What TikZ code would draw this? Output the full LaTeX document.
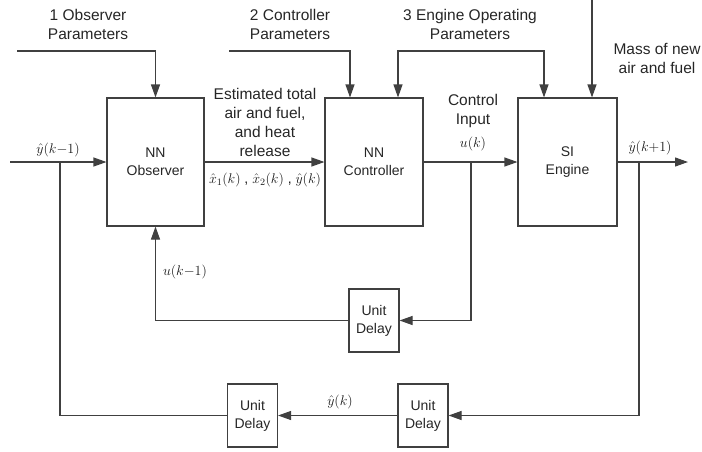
\RequirePackage{fix-cm}
\documentclass[tikz,border=0pt]{standalone}
\usepackage{fontspec}
\setmainfont{Liberation Sans}
\usetikzlibrary{arrows.meta}
\begin{document}
\begin{tikzpicture}[x=1pt, y=-1pt, line width=1.1pt, color=black!75,
        blk/.style={draw, rectangle, minimum width=97pt, minimum height=128pt, inner sep=0pt,
            align=center, text=black!85, font=\fontsize{14}{18}\selectfont},
        dly/.style={draw, rectangle, minimum width=50pt, minimum height=63pt, inner sep=0pt,
            align=center, text=black!85, font=\fontsize{14}{18}\selectfont},
        lbl/.style={align=center, text=black!85, font=\fontsize{15.5}{19}\selectfont},
        sig/.style={text=black!90, inner sep=1pt, font=\fontsize{14}{16}\selectfont},
        arr/.style={-{Triangle[length=13pt,width=9pt]}},
        biarr/.style={{Triangle[length=13pt,width=9pt]}-{Triangle[length=13pt,width=9pt]}}]
        \useasboundingbox (0,0) rectangle (702,451);

        \node[blk] (obs) at (155.5,162) {NN\\Observer};
        \node[blk, minimum width=98pt] (ctrl) at (374,162) {NN\\Controller};
        \node[blk, minimum width=99pt] (eng) at (567.5,162) {SI\\Engine};
        \node[dly] (udelay) at (374,320.5) {Unit\\Delay};
        \node[dly] (ydelay1) at (423,415.5) {Unit\\Delay};
        \node[dly] (ydelay2) at (252.5,415.5) {Unit\\Delay};

        \coordinate (yin) at (10,162);
        \coordinate (ybr) at (60,162);
        \coordinate (ubr) at (471,162);
        \coordinate (ybr2) at (639,162);
        \coordinate (yout) at (688,162);
        \coordinate (obspar) at (17,51);
        \coordinate (ctrlpar) at (229,51);
        \coordinate (engpar) at (470,51);
        \coordinate (mass) at (592,0);

        \draw[arr] (yin) -- (obs.west);
        \draw[arr] (obs) -- (ctrl);
        \draw[arr] (ctrl) -- (eng);
        \draw[arr] (eng) -- (yout);
        \draw[arr] (ubr) |- (udelay.east);
        \draw[arr] (udelay.west) -| (obs.south);
        \draw[arr] (ybr2) |- (ydelay1.east);
        \draw[arr] (ydelay1) -- (ydelay2);
        \draw (ydelay2.west) -| (ybr);
        \draw[arr] (obspar) -| (obs.north);
        \draw[arr] (ctrlpar) -| ([xshift=-24pt]ctrl.north);
        \draw[biarr] ([xshift=24pt]ctrl.north) |- (engpar) -| ([xshift=-23.5pt]eng.north);
        \draw[arr] (mass) -- ([xshift=24.5pt]eng.north);

        \node[lbl] (obsparlbl) at (88,24) {1 Observer\\Parameters};
        \node[lbl] (ctrlparlbl) at (290,24) {2 Controller\\Parameters};
        \node[lbl] (engparlbl) at (470,24) {3 Engine Operating\\Parameters};
        \node[lbl] (masslbl) at (657,58) {Mass of new\\air and fuel};
        \node[lbl] (estlbl) at (265,122) {Estimated total\\air and fuel,\\and heat\\release};
        \node[lbl] (ulbl) at (473,111) {Control\\Input};

        \node[sig] (xhat) at (265,180) {$\hat{x}_1(k)$ , $\hat{x}_2(k)$ , $\hat{y}(k)$};
        \node[sig] (ykm1) at (58,150) {$\hat{y}(k{-}1)$};
        \node[sig] (uk) at (473,144) {$u(k)$};
        \node[sig] (ykp1) at (650,148) {$\hat{y}(k{+}1)$};
        \node[sig] (ukm1) at (185,272) {$u(k{-}1)$};
        \node[sig] (yk) at (340,402) {$\hat{y}(k)$};
    \end{tikzpicture}
\end{document}
